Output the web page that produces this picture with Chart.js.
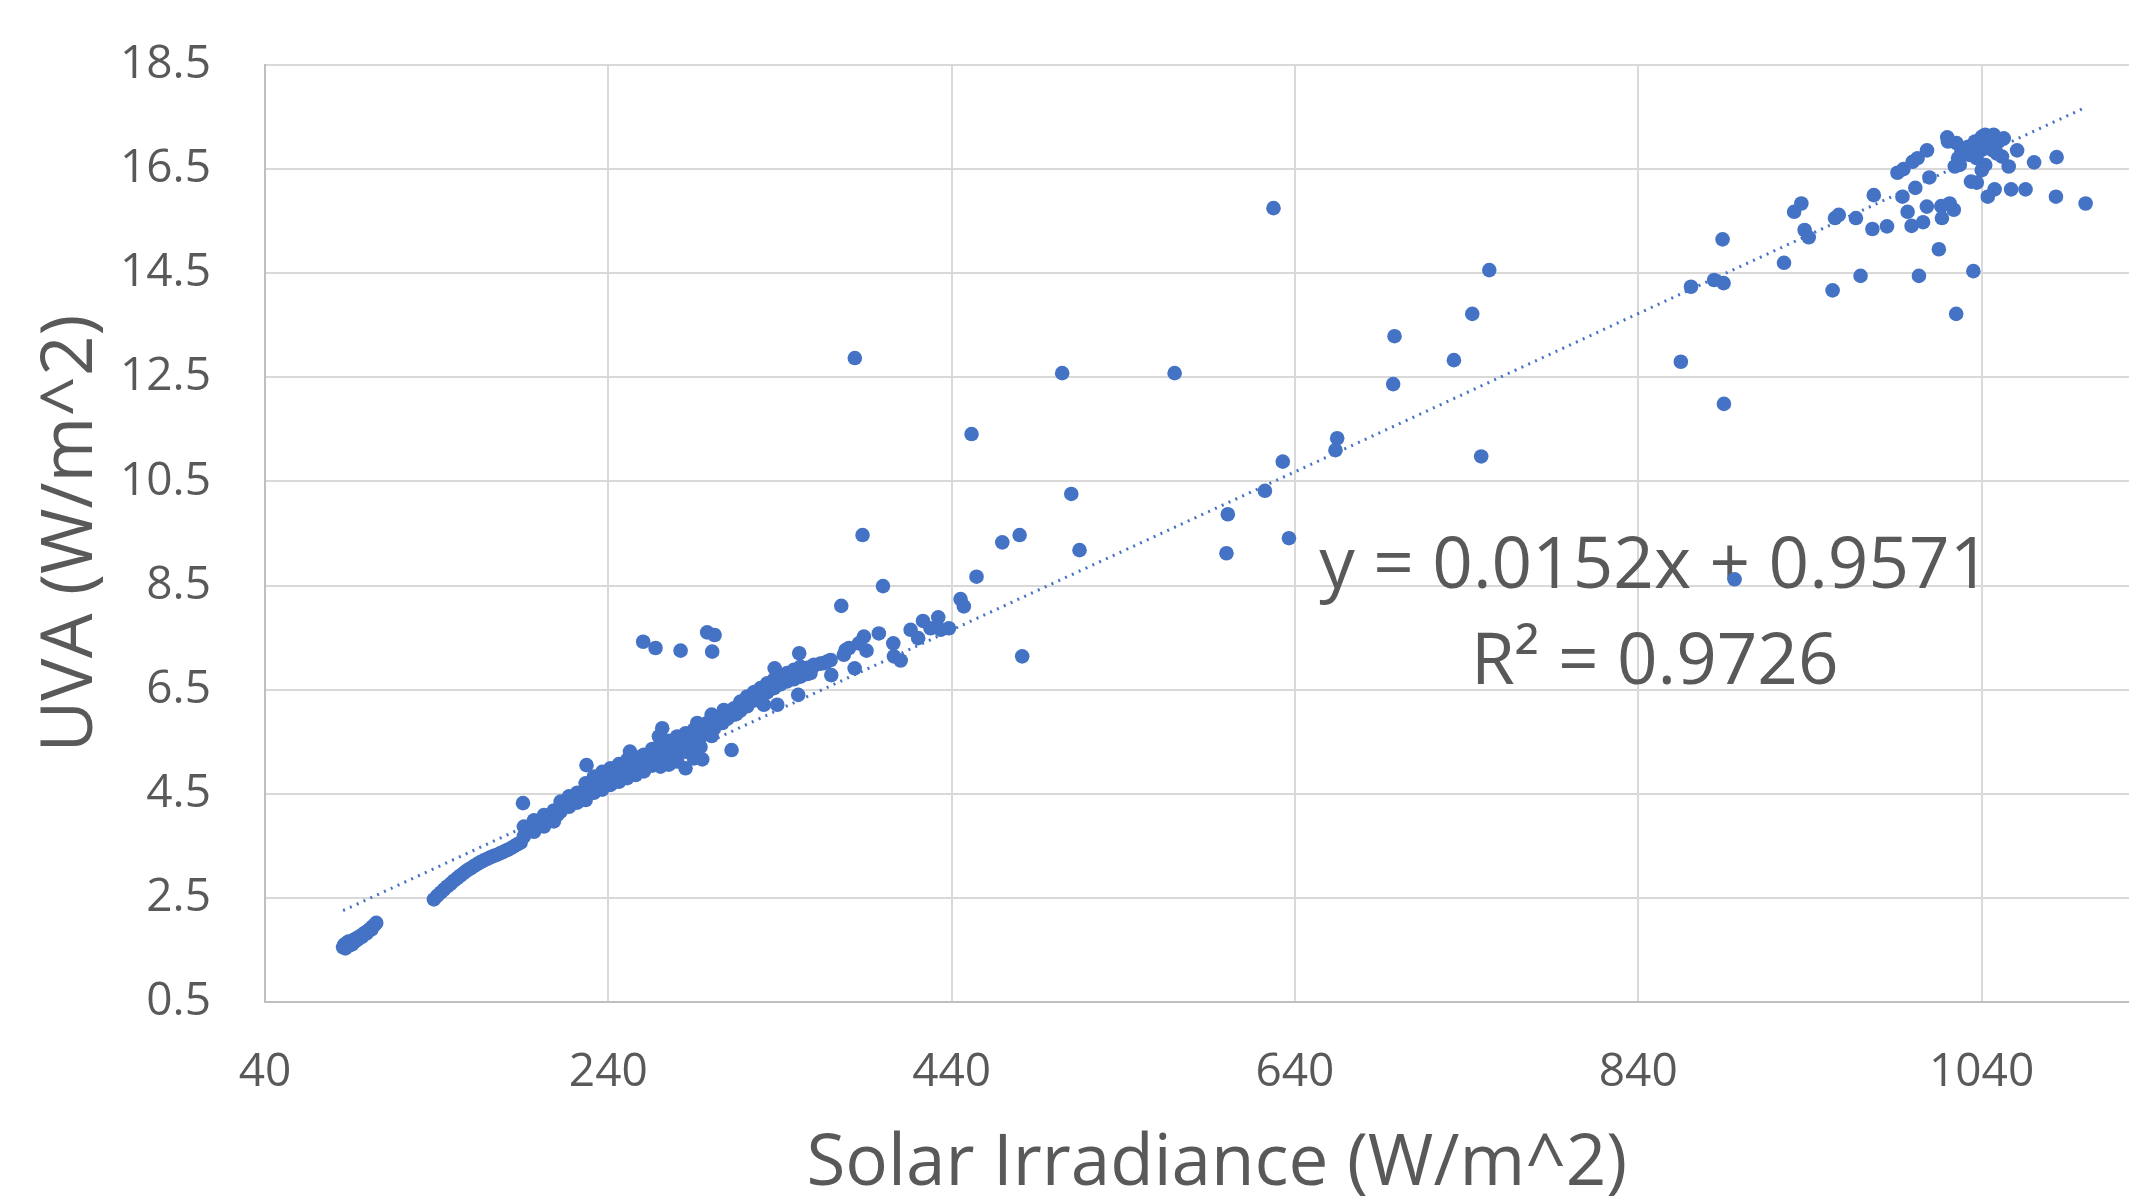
<!DOCTYPE html>
<html><head><meta charset="utf-8">
<script src="https://cdn.jsdelivr.net/npm/chart.js@4.4.1/dist/chart.umd.min.js"></script>
<style>html,body{margin:0;padding:0;background:#fff;overflow:hidden}#wrap{width:2129px;height:1197px;overflow:hidden}</style>
</head><body><div id="wrap"><canvas id="c" width="2176" height="1197"></canvas></div>
<script>
// ---- tick labels ----
const xTickValues = [40, 240, 440, 640, 840, 1040];
const yTickValues = [0.5, 2.5, 4.5, 6.5, 8.5, 10.5, 12.5, 14.5, 16.5, 18.5];

// ---- axis texts ----
const xAxisTitle = 'Solar Irradiance (W/m^2)';
const yAxisTitle = 'UVA (W/m^2)';

// ---- trendline (as printed on chart) ----
const trendSlope = 0.0152;
const trendIntercept = 0.9571;
const equationText = 'y = 0.0152x + 0.9571';
const r2Text = 'R\u00B2 = 0.9726';

// ---- data: [solar irradiance, UVA] ----
const lowBlob = [[85.5,1.55],[86.2,1.60],[86.8,1.53],[87.4,1.63],[88.0,1.57],[88.6,1.66],[89.3,1.59],[90.0,1.65],[90.8,1.61],[91.5,1.69],[92.3,1.66],[93.1,1.72],[94.0,1.70],[94.8,1.75],[95.7,1.77],[96.5,1.75],[97.4,1.81],[98.3,1.83],[99.2,1.82],[100.1,1.87],[101.0,1.90],[101.9,1.89],[102.8,1.95],[103.8,1.98],[104.8,2.02]];
const thinBand = [[138.4,2.47],[140.3,2.54],[142.3,2.60],[144.2,2.66],[146.2,2.72],[148.1,2.77],[150.1,2.83],[152.0,2.88],[153.9,2.93],[155.9,2.98],[157.8,3.03],[159.8,3.07],[161.7,3.11],[163.6,3.15],[165.6,3.19],[167.5,3.22],[169.5,3.25],[171.4,3.28],[173.4,3.31],[175.3,3.33],[177.2,3.36],[179.2,3.39],[181.1,3.42],[183.0,3.45],[185.0,3.49],[187.0,3.53],[188.9,3.56]];
const midCluster = [[190.8,3.87],[190.8,3.68],[193.7,3.80],[196.7,3.99],[196.7,3.77],[199.6,3.93],[202.5,4.09],[202.5,3.87],[205.4,4.03],[208.3,4.18],[208.3,3.97],[210.5,4.10],[190.3,4.32]];
const mainBand = [
 [212.2,4.35],[212.2,4.16],[217.1,4.45],[217.1,4.25],[221.9,4.52],[221.9,4.33],
 [226.8,4.70],[226.8,4.50],[226.8,4.38],[231.6,4.83],[231.6,4.67],[231.6,4.52],
 [236.5,4.92],[236.5,4.75],[236.5,4.58],[241.3,4.99],[241.3,4.83],[241.3,4.67],
 [246.2,5.07],[246.2,4.90],[246.2,4.73],[251.0,5.15],[251.0,4.97],[251.0,4.80],
 [255.9,5.20],[255.9,5.03],[255.9,4.86],[260.7,5.25],[260.7,5.09],[260.7,4.93],
 [265.6,5.36],[265.6,5.20],[265.6,5.04],[270.4,5.47],[270.4,5.31],[270.4,5.15],[270.4,5.02],
 [275.3,5.52],[275.3,5.36],[275.3,5.20],[275.3,5.06],[280.1,5.60],[280.1,5.44],[280.1,5.28],[280.1,5.12],
 [285.0,5.66],[285.0,5.48],[285.0,5.31],[289.9,5.73],[289.9,5.53],[289.9,5.34],[289.9,5.18],
 [293.7,5.80],[293.7,5.60],[293.7,5.40],[297.6,5.86],[297.6,5.66],[301.5,5.92],[301.5,5.75],
 [305.4,5.98],[305.4,5.86],[309.3,6.06],[309.3,5.94],[313.2,6.14],[313.2,6.02],[317.0,6.25],[317.0,6.10],
 [320.9,6.37],[320.9,6.21],[324.8,6.45],[324.8,6.29],[328.7,6.53],[328.7,6.37],[332.6,6.61],[332.6,6.45],
 [336.5,6.69],[336.5,6.53],[340.3,6.73],[340.3,6.60],[344.2,6.78],[344.2,6.66],[348.1,6.83],[348.1,6.70],
 [352.0,6.88],[352.0,6.75],[355.9,6.92],[355.9,6.80],[359.8,6.96],[363.6,7.00],[367.5,7.04]];
const bandOutliers = [[227.3,5.05],[252.6,5.31],[271.4,5.76],[269.5,5.60],[285.0,4.99],[294.7,5.16],[300.2,5.61],[291.8,5.86],[300.2,6.02],[306.4,5.86],[307.3,6.11],[311.8,5.34],[314.5,6.03],[317.0,6.27],[320.9,6.18],[325.8,6.46],[330.6,6.21],[332.6,6.62],[336.9,6.91],[338.4,6.21],[340.3,6.72],[344.2,6.82],[348.1,6.88],[350.6,6.40],[351.2,7.20],[352.0,6.94],[357.8,6.82],[359.8,6.98],[365.6,7.01],[369.5,7.07],[369.9,6.78],[375.7,8.11],[377.2,7.17],[378.2,7.26],[380.2,7.30],[383.5,6.91],[386.0,7.39],[388.9,7.52],[390.4,7.25],[397.6,7.58],[400.0,8.49],[406.0,7.39],[406.4,7.14],[410.3,7.06],[416.1,7.65],[420.5,7.49],[423.3,7.82],[427.7,7.68],[432.2,7.89],[433.6,7.65],[438.4,7.68],[445.2,8.24],[447.1,8.10],[454.5,8.67],[481.1,7.14],[260.3,7.42],[267.5,7.30],[282.1,7.25],[297.6,7.60],[301.9,7.55],[300.5,7.23]];
const midScatter = [[383.6,12.87],[451.6,11.41],[504.4,12.58],[569.9,12.58],[388.1,9.47],[469.5,9.33],[479.6,9.47],[509.7,10.26],[514.5,9.18],[600.9,9.87],[600.1,9.12],[622.5,10.32],[632.9,10.88],[636.5,9.41],[664.6,11.33],[663.6,11.10],[627.5,15.75],[753.2,14.56],[743.3,13.72],[698.0,13.29],[732.6,12.83],[697.2,12.37],[748.5,10.98]];
const highScatter = [[864.8,12.80],[889.9,11.99],[870.7,14.24],[884.2,14.37],[889.7,14.31],[889.1,15.15],[924.9,14.70],[953.2,14.17],[969.5,14.45],[1003.5,14.45],[1035.2,14.54],[1025.2,13.72],[1015.1,14.96],[930.8,15.68],[935.0,15.84],[936.9,15.33],[939.3,15.19],[954.6,15.56],[956.8,15.62],[966.8,15.56],[976.4,15.35],[984.9,15.40],[977.2,16.00],[991.0,16.43],[994.5,16.50],[999.8,16.64],[1002.7,16.71],[1008.2,16.86],[1009.6,16.34],[1001.4,16.14],[993.9,15.97],[996.9,15.68],[999.2,15.41],[1005.9,15.48],[1008.1,15.78],[1016.5,15.79],[1021.4,15.84],[1023.8,15.72],[1016.9,15.56],[1020.0,17.11],[1020.4,17.03],[1025.4,17.00],[1024.4,16.55],[1027.3,16.58],[1028.3,16.84],[1032.2,16.93],[1033.2,16.77],[1036.2,17.03],[1040.1,17.12],[1042.1,17.16],[1047.0,17.16],[1052.9,17.09],[1044.0,16.93],[1048.9,16.80],[1051.9,16.74],[1040.1,16.87],[1037.1,16.71],[1042.1,16.58],[1040.1,16.48],[1033.8,16.26],[1037.2,16.24],[1055.8,16.55],[1060.7,16.86],[1070.6,16.63],[1083.7,16.73],[1047.6,16.11],[1043.6,15.97],[1057.2,16.11],[1065.6,16.11],[1083.3,15.97],[1100.6,15.84],[1030.3,16.80],[1034.2,16.87],[1038.1,16.93],[1046.0,17.00],[1049.9,17.03],[1046.0,16.87],[1026.3,16.71],[896.1,8.62]];

// ---- layout / style constants ----
const TEXT = '#595959';
const BLUE = '#4472C4';
const FONT = '"Open Sans", "Noto Sans", sans-serif';
const eqAnchorX = 849.6, eqLine1Y = 8.454, eqLine2Y = 6.61;

const allPoints = [].concat(lowBlob, thinBand, midCluster, mainBand, bandOutliers, midScatter, highScatter)
  .map(p => ({x: p[0], y: p[1]}));
const xs = allPoints.map(p => p.x);
const xMinData = Math.min(...xs), xMaxData = Math.max(...xs);
const trendPoints = [xMinData, xMaxData].map(v => ({x: v, y: trendSlope * v + trendIntercept}));

const equationPlugin = {
  id: 'equationLabel',
  beforeDatasetsDraw(chart) {
    const {ctx, scales: {x, y}} = chart;
    ctx.save();
    ctx.font = '71px ' + FONT;
    ctx.fillStyle = TEXT;
    ctx.textAlign = 'center';
    ctx.textBaseline = 'alphabetic';
    ctx.fillText(equationText, x.getPixelForValue(eqAnchorX), y.getPixelForValue(eqLine1Y));
    ctx.fillText(r2Text, x.getPixelForValue(eqAnchorX), y.getPixelForValue(eqLine2Y));
    ctx.restore();
  }
};

new Chart(document.getElementById('c'), {
  type: 'scatter',
  data: {
    datasets: [
      {
        label: 'UVA',
        data: allPoints,
        backgroundColor: BLUE,
        borderColor: BLUE,
        borderWidth: 0,
        pointRadius: 7.3,
        pointHoverRadius: 7.3
      },
      {
        label: 'Trend',
        data: trendPoints,
        showLine: true,
        borderColor: BLUE,
        borderWidth: 3,
        borderDash: [2, 5.5],
        pointRadius: 0,
        fill: false
      }
    ]
  },
  options: {
    responsive: false,
    maintainAspectRatio: false,
    devicePixelRatio: 1,
    animation: false,
    events: [],
    layout: {padding: {top: 65, left: 0, right: 0, bottom: 0}},
    plugins: {legend: {display: false}, tooltip: {enabled: false}, title: {display: false}},
    scales: {
      x: {
        type: 'linear',
        position: 'bottom',
        min: 40,
        max: 1149,
        afterBuildTicks: s => { s.ticks = xTickValues.map(v => ({value: v})); },
        afterFit: s => { s.height = 195; s.paddingLeft = 0; s.paddingRight = 0; },
        ticks: {
          color: TEXT, padding: 43,
          font: {family: FONT, size: 46},
          callback: v => String(v),
          maxRotation: 0, autoSkip: false
        },
        grid: {color: '#D9D9D9', lineWidth: 2, drawTicks: false},
        border: {display: true, color: '#BFBFBF', width: 2},
        title: {
          display: true, text: xAxisTitle, color: TEXT,
          font: {family: FONT, size: 71},
          padding: {top: 0, bottom: -10}
        }
      },
      y: {
        type: 'linear',
        position: 'left',
        min: 0.5,
        max: 18.5,
        afterBuildTicks: s => { s.ticks = yTickValues.map(v => ({value: v})); },
        afterFit: s => { s.width = 265; s.paddingTop = 0; s.paddingBottom = 0; },
        ticks: {
          color: TEXT, padding: 54,
          font: {family: FONT, size: 46},
          callback: v => Number(v).toFixed(1),
          autoSkip: false
        },
        grid: {color: '#D9D9D9', lineWidth: 2, drawTicks: false},
        border: {display: true, color: '#BFBFBF', width: 2},
        title: {
          display: true, text: yAxisTitle, color: TEXT,
          font: {family: FONT, size: 71},
          padding: {top: 29, bottom: 0}
        }
      }
    }
  },
  plugins: [equationPlugin]
});
</script>
</body></html>
